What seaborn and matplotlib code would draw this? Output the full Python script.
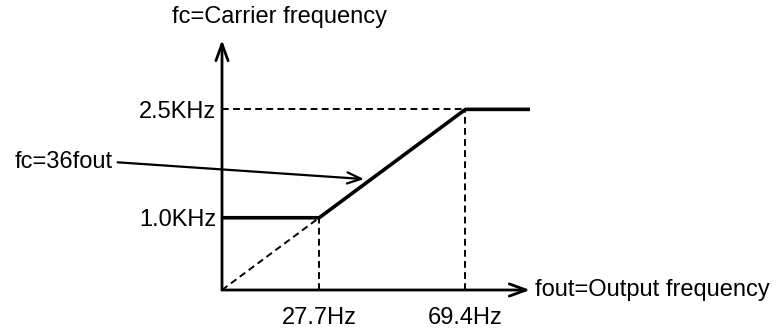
import matplotlib
matplotlib.use("Agg")
import matplotlib.pyplot as plt
import seaborn as sns

# carrier frequency vs output frequency
fout_hz = [0, 27.7, 69.4, 87.8]
fc_khz = [1.0, 1.0, 2.5, 2.5]

# fc = 36 * fout reference line
ratio_fout = [0, 27.7]
ratio_fc = [0, 1.0]

x_ticks = [27.7, 69.4]
x_tick_labels = ["27.7Hz", "69.4Hz"]
y_ticks = [1.0, 2.5]
y_tick_labels = ["1.0KHz", "2.5KHz"]

x_max = 87.8
y_max = 3.46


def main():
    sns.set_theme(style="white")
    plt.rcParams["font.family"] = ["Liberation Sans", "DejaVu Sans"]

    fig = plt.figure(figsize=(7.8, 3.32), dpi=100)
    ax = fig.add_axes([222 / 780, 42 / 332, 308 / 780, 250 / 332])
    ax.set_xlim(0, x_max)
    ax.set_ylim(0, y_max)
    for s in ax.spines.values():
        s.set_visible(False)

    dash = (0, (3.5, 2.2))
    # guide lines
    ax.plot([0, x_ticks[1]], [y_ticks[1], y_ticks[1]], color="black", lw=1.4, ls=dash)
    ax.plot([x_ticks[0], x_ticks[0]], [0, y_ticks[0]], color="black", lw=1.4, ls=dash)
    ax.plot([x_ticks[1], x_ticks[1]], [0, y_ticks[1]], color="black", lw=1.4, ls=dash)
    sns.lineplot(x=ratio_fout, y=ratio_fc, color="black", lw=1.4, ls=dash, ax=ax)

    sns.lineplot(x=fout_hz, y=fc_khz, color="black", lw=2.6, ax=ax)

    # axes with open arrow heads
    arrow = dict(arrowstyle="->,head_length=0.6,head_width=0.22", lw=2.0,
                 color="black", shrinkA=0, shrinkB=0, mutation_scale=20)
    ax.annotate("", xy=(0, 1), xytext=(0, 0), xycoords="axes fraction",
                textcoords="axes fraction", arrowprops=arrow, annotation_clip=False)
    ax.annotate("", xy=(1, 0), xytext=(0, 0), xycoords="axes fraction",
                textcoords="axes fraction", arrowprops=arrow, annotation_clip=False)

    ax.set_xticks(x_ticks, labels=x_tick_labels)
    ax.set_yticks(y_ticks, labels=y_tick_labels)
    ax.tick_params(axis="both", length=0, labelsize=17, colors="black")
    ax.tick_params(axis="x", pad=12)
    ax.tick_params(axis="y", pad=4)

    ax.text(0.188, 1.09, "fc=Carrier frequency", transform=ax.transAxes,
            ha="center", va="center", fontsize=17, color="black")
    ax.text(1.016, 0.0, "fout=Output frequency", transform=ax.transAxes,
            ha="left", va="center", fontsize=17, color="black")

    ax.annotate("fc=36fout", xy=(40.5, 1.535), xytext=(-0.354, 0.512),
                textcoords="axes fraction", ha="right", va="center",
                fontsize=17, color="black", annotation_clip=False,
                arrowprops=dict(arrowstyle="->,head_length=0.5,head_width=0.2",
                                lw=1.6, color="black", shrinkA=1, shrinkB=0,
                                relpos=(1, 0.5), mutation_scale=20))

    fig.savefig("out.png", dpi=100)


if __name__ == "__main__":
    main()
